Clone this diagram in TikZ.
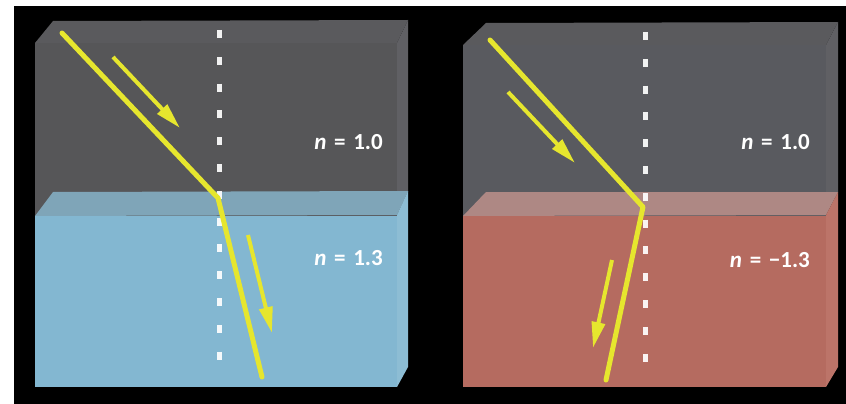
\documentclass[tikz,border=0pt]{standalone}
\usepackage{fontspec}
\setmainfont{Carlito}
\usetikzlibrary{arrows.meta}
\definecolor{raycol}{HTML}{E6E62E}
\definecolor{grayfront}{HTML}{565658}
\definecolor{graytop}{HTML}{5A5A5D}
\definecolor{grayside}{HTML}{606064}
\definecolor{grayfrontb}{HTML}{595A5F}
\definecolor{bluefront}{HTML}{83B7D1}
\definecolor{bluetop}{HTML}{7FA5B8}
\definecolor{blueside}{HTML}{8DBDD4}
\definecolor{redfront}{HTML}{B56B60}
\definecolor{redtop}{HTML}{AE8884}
\definecolor{redside}{HTML}{BC7469}
\tikzset{
  x=1pt, y=-1pt,
  ray/.style={draw=raycol, line width=5pt, line cap=round, line join=round},
  dirarrow/.style={draw=raycol, line width=4pt, -{Triangle[length=26pt,width=13pt]}},
  normalline/.style={draw=white, opacity=0.92, line width=5pt, dash pattern=on 8pt off 18.8pt},
  label/.style={text=white, font=\fontsize{23}{25}\selectfont\bfseries, anchor=east, inner sep=0pt},
}
\begin{document}
\begin{tikzpicture}
\useasboundingbox (0,0) rectangle (846,404);
\fill[white] (0,0) rectangle (846,404);
\fill[black] (14,6) rectangle (846,404);

% ---- left block: air over ordinary medium ----
\fill[graytop] (35,43) -- (53,21) -- (408,20) -- (397,43) -- cycle;
\fill[grayside] (397,43) -- (408,20) -- (408,192) -- (397,215) -- cycle;
\fill[grayfront] (35,43) rectangle (397,216);
\fill[bluetop] (35,216) -- (53,192) -- (408,191) -- (397,215) -- cycle;
\fill[blueside] (397,215) -- (408,191) -- (408,367) -- (397,387) -- cycle;
\fill[bluefront] (35,216) rectangle (397,387);

% ---- right block: air over negative-index medium ----
\fill[graytop] (463,45) -- (486,23) -- (838,22) -- (826,45) -- cycle;
\fill[grayside] (826,45) -- (838,22) -- (838,192) -- (826,215) -- cycle;
\fill[grayfrontb] (463,45) rectangle (826,216);
\fill[redtop] (463,216) -- (486,192) -- (838,192) -- (826,215) -- cycle;
\fill[redside] (826,215) -- (838,192) -- (838,367) -- (826,387) -- cycle;
\fill[redfront] (463,216) rectangle (826,387);

% surface normals
\coordinate (nLtop) at (219,30);
\coordinate (nLbot) at (219,378);
\coordinate (nRtop) at (645,32);
\coordinate (nRbot) at (645,377);
\draw[normalline] (nLtop) -- (nLbot);
\draw[normalline] (nRtop) -- (nRbot);

% rays
\coordinate (inL) at (62,33);
\coordinate (hitL) at (218,198);
\coordinate (outL) at (262,377);
\coordinate (inR) at (490,40);
\coordinate (hitR) at (643,207);
\coordinate (outR) at (606,380);
\draw[ray] (inL) -- (hitL) -- (outL);
\draw[ray] (inR) -- (hitR) -- (outR);

% propagation direction arrows
\coordinate (aL1s) at (113,57);  \coordinate (aL1e) at (180,128);
\coordinate (aL2s) at (248,235); \coordinate (aL2e) at (272,333);
\coordinate (aR1s) at (508,92);  \coordinate (aR1e) at (575,163);
\coordinate (aR2s) at (612,260); \coordinate (aR2e) at (593,348);
\draw[dirarrow] (aL1s) -- (aL1e);
\draw[dirarrow] (aL2s) -- (aL2e);
\draw[dirarrow] (aR1s) -- (aR1e);
\draw[dirarrow] (aR2s) -- (aR2e);

% refractive indices
\node[label] (nL1) at (383,142) {\itshape n\normalfont\bfseries\,\,=\,\,1.0};
\node[label] (nL2) at (383,258) {\itshape n\normalfont\bfseries\,\,=\,\,1.3};
\node[label] (nR1) at (810,142) {\itshape n\normalfont\bfseries\,\,=\,\,1.0};
\node[label] (nR2) at (810,260) {\itshape n\normalfont\bfseries\,\,=\,\,−1.3};
\end{tikzpicture}
\end{document}
